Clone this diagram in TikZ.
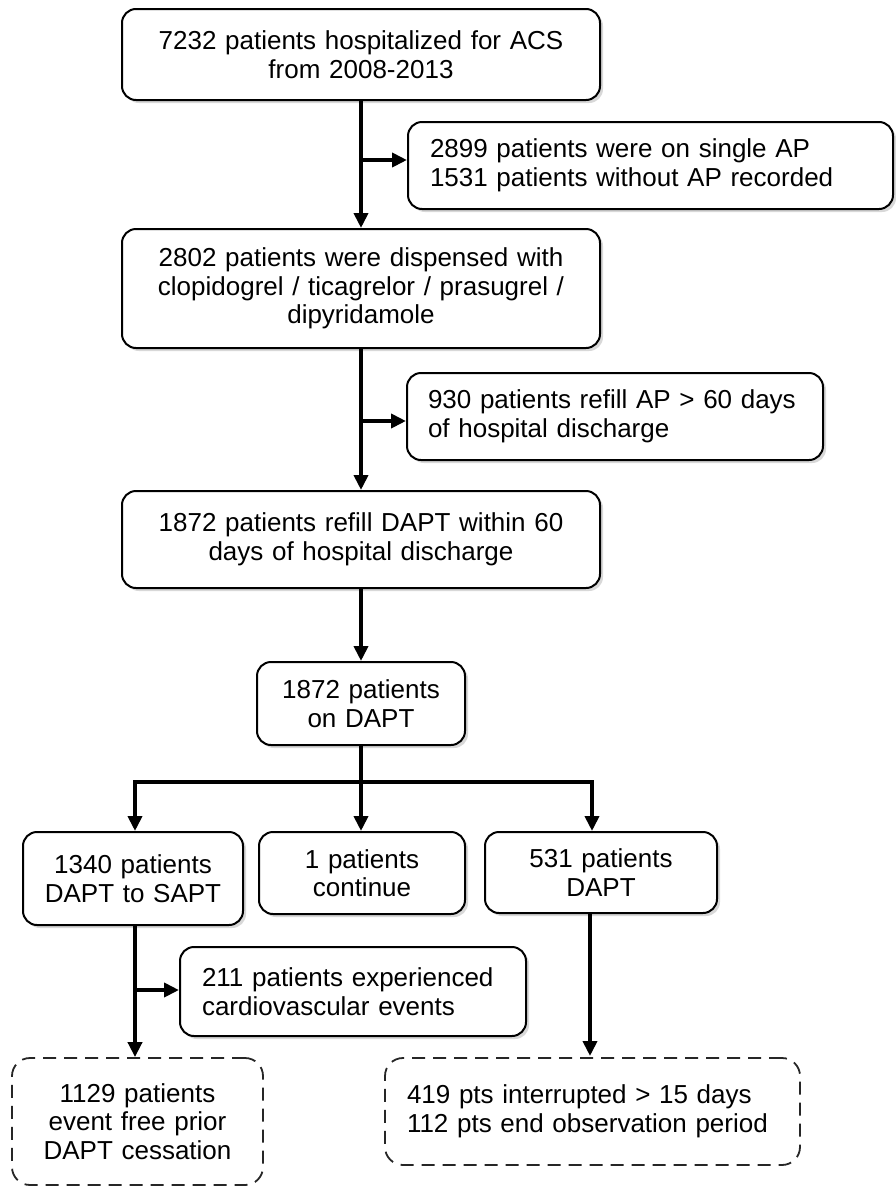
\documentclass[tikz,border=0pt]{standalone}
\usepackage{fontspec}
\setmainfont{Liberation Sans}
\usetikzlibrary{arrows.meta,shadows}
\begin{document}
\begin{tikzpicture}[x=1pt,y=-1pt,
  txt/.style={font=\fontsize{26}{28.5}\selectfont},
  box/.style={txt, draw=black, line width=2pt, rounded corners=14pt, fill=white,
    drop shadow={opacity=0.3, shadow xshift=3pt, shadow yshift=-3pt}, inner sep=0pt},
  dbox/.style={txt, draw=black!85, line width=1.8pt, dash pattern=on 13pt off 8pt,
    rounded corners=18pt, fill=white, inner sep=0pt},
  line/.style={line width=4pt, draw=black},
  conn/.style={line, -{Triangle[length=15pt,width=14pt]}}
]
\useasboundingbox (0,0) rectangle (895,1189);
\fill[white] (0,0) rectangle (895,1189);

\node[box, minimum width=478pt, minimum height=91pt, text width=450pt, align=center] (b1) at (361,54.5)
  {7232 patients hospitalized for ACS\\from 2008-2013};
\node[box, minimum width=485pt, minimum height=87pt, text width=441pt, align=left] (b2) at (650.5,165.5)
  {2899 patients were on single AP\\1531 patients without AP recorded};
\node[box, minimum width=478pt, minimum height=119pt, text width=450pt, align=center] (b3) at (361,288.5)
  {2802 patients were dispensed with\\clopidogrel / ticagrelor / prasugrel /\\dipyridamole};
\node[box, minimum width=416pt, minimum height=87pt, text width=374pt, align=left] (b4) at (615,416.5)
  {930 patients refill AP > 60 days\\of hospital discharge};
\node[box, minimum width=478pt, minimum height=97pt, text width=450pt, align=center] (b5) at (361,539.5)
  {1872 patients refill DAPT within 60\\days of hospital discharge};
\node[box, minimum width=208pt, minimum height=83pt, text width=190pt, align=center] (b6) at (361,703.5)
  {1872 patients\\on DAPT};
\node[box, minimum width=220pt, minimum height=93pt, text width=210pt, align=center] (b7) at (133,878.5)
  {1340 patients\\DAPT to SAPT};
\node[box, minimum width=206pt, minimum height=82pt, text width=190pt, align=center] (b8) at (362,873)
  {1 patients\\continue};
\node[box, minimum width=232pt, minimum height=81pt, text width=210pt, align=center] (b9) at (601,872.5)
  {531 patients\\DAPT};
\node[box, minimum width=346pt, minimum height=89pt, text width=302pt, align=left] (b10) at (353,991.5)
  {211 patients experienced\\cardiovascular events};
\node[dbox, minimum width=251pt, minimum height=127pt, text width=235pt, align=center] (b11) at (137.5,1121.5)
  {1129 patients\\event free prior\\DAPT cessation};
\node[dbox, minimum width=415pt, minimum height=107pt, text width=371pt, align=left] (b12) at (592.5,1111.5)
  {419 pts interrupted > 15 days\\112 pts end observation period};

\coordinate (j2) at (361,160);
\coordinate (j4) at (361,421);
\coordinate (j10) at (135,990);
\coordinate (hb) at (361,782);
\coordinate (t7) at (135,831);
\coordinate (t9) at (592,831);
\coordinate (e9) at (590,1056);

\draw[conn] (b1.south) -- (b3.north);
\draw[conn] (j2) -- (j2 -| b2.west);
\draw[conn] (b3.south) -- (b5.north);
\draw[conn] (j4) -- (j4 -| b4.west);
\draw[conn] (b5.south) -- (b6.north);
\draw[line] (b6.south) -- (hb);
\draw[conn] (hb) -| (t7);
\draw[conn] (hb) -- (hb |- b8.north);
\draw[conn] (hb) -| (t9);
\draw[conn] (b7.south -| t7) -- (b11.north -| t7);
\draw[conn] (j10) -- (j10 -| b10.west);
\draw[conn] (b9.south -| e9) -- (e9);
\end{tikzpicture}
\end{document}
